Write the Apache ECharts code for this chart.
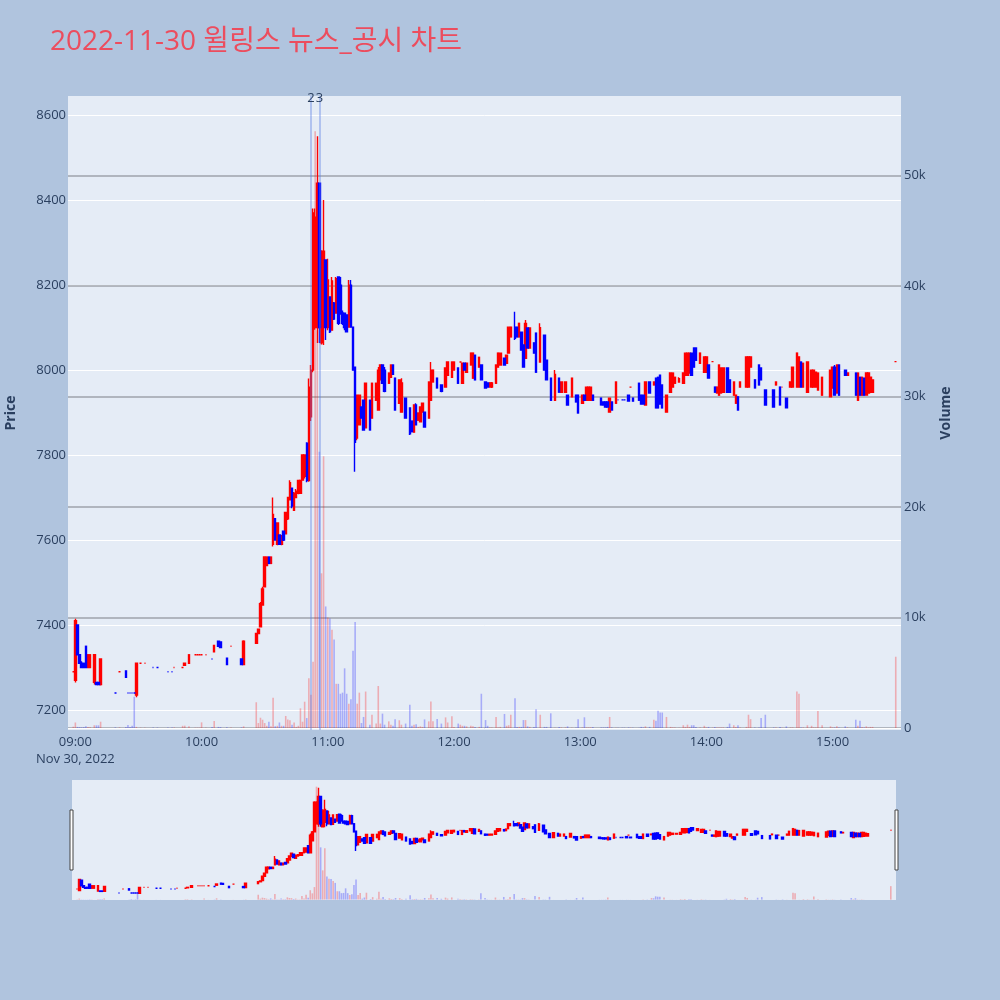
<!DOCTYPE html>
<html><head><meta charset="utf-8">
<script src="https://cdn.jsdelivr.net/npm/echarts@6/dist/echarts.min.js"></script>
<style>html,body{margin:0;padding:0;background:#b0c4de;}#c{width:1000px;height:1000px;}</style>
</head><body><div id="c"></div>
<script>
const times = [
'08:59','09:00','09:01','09:02','09:03','09:04','09:05','09:06','09:07','09:09','09:10','09:11','09:12','09:19','09:21','09:24','09:25','09:26','09:27','09:28','09:29','09:31','09:33','09:37','09:39','09:44','09:46','09:47','09:51','09:52','09:54','09:57','09:58','09:59',
'10:00','10:02','10:05','10:06','10:08','10:09','10:12','10:14','10:19','10:20','10:26','10:27','10:28','10:29','10:30','10:31','10:32','10:33','10:34','10:35','10:36','10:37','10:38','10:39','10:40','10:41','10:42','10:43','10:44','10:45','10:46','10:47','10:48','10:49','10:50','10:51','10:52','10:53','10:54','10:55','10:56','10:57','10:58','10:59',
'11:00','11:01','11:02','11:03','11:04','11:05','11:06','11:07','11:08','11:09','11:10','11:11','11:12','11:13','11:14','11:15','11:16','11:17','11:18','11:20','11:21','11:23','11:24','11:25','11:26','11:27','11:29','11:30','11:31','11:32','11:34','11:35','11:37','11:39','11:40','11:41','11:42','11:43','11:44','11:45','11:46','11:48','11:49','11:50','11:52','11:54','11:56','11:57','11:59',
'12:00','12:02','12:03','12:04','12:05','12:06','12:08','12:09','12:10','12:12','12:13','12:15','12:16','12:17','12:18','12:20','12:21','12:22','12:24','12:25','12:26','12:27','12:29','12:30','12:31','12:32','12:33','12:34','12:35','12:36','12:38','12:39','12:41','12:43','12:44','12:46','12:48','12:50','12:51','12:53','12:54','12:56','12:58','12:59',
'13:01','13:02','13:03','13:04','13:05','13:06','13:10','13:11','13:12','13:13','13:14','13:15','13:17','13:18','13:20','13:21','13:23','13:24','13:25','13:28','13:29','13:30','13:31','13:33','13:35','13:36','13:37','13:38','13:39','13:41','13:43','13:44','13:45','13:47','13:49','13:50','13:51','13:52','13:53','13:54','13:55','13:57','13:59',
'14:00','14:01','14:03','14:04','14:05','14:06','14:07','14:08','14:10','14:11','14:13','14:14','14:15','14:16','14:19','14:20','14:21','14:23','14:25','14:26','14:28','14:32','14:33','14:35','14:36','14:38','14:40','14:41','14:43','14:44','14:45','14:46','14:48','14:50','14:51','14:52','14:53','14:55','14:59',
'15:00','15:01','15:02','15:03','15:06','15:07','15:11','15:12','15:13','15:14','15:15','15:16','15:17','15:18','15:19','15:30'];
const opens = [
7290,7270,7400,7330,7310,7310,7350,7300,7300,7265,7265,7265,7260,7240,7290,7292,7240,7240,7240,7240,7235,7310,7310,7300,7300,7290,7290,7300,7300,7305,7310,7330,7330,7330,
7330,7330,7320,7337,7362,7360,7322,7350,7320,7307,7357,7380,7396,7447,7490,7540,7560,7545,7590,7650,7590,7612,7590,7621,7615,7650,7695,7722,7670,7700,7710,7710,7741,7750,7828,7740,7890,8000,8100,8100,8440,8064,8120,8259,
8100,8172,8094,8158,8134,8219,8200,8134,8134,8130,8101,8200,8101,8007,7840,7871,7913,7929,7864,7929,7887,7929,7906,7977,8012,8000,7969,7983,8012,7981,7922,7901,7934,7911,7880,7854,7918,7882,7878,7901,7901,7887,7929,7972,7981,7965,7960,7988,7983,
8000,8005,8019,7969,8016,7995,8012,7981,8035,8007,8012,7972,7970,7960,7960,7969,8007,8012,8028,8016,8040,8078,8101,8101,8078,8089,8059,8028,8099,8052,8064,8087,8019,8082,8023,7981,7929,7981,7948,7948,7941,7937,7941,7941,
7922,7941,7929,7929,7929,7941,7934,7925,7925,7925,7901,7925,7922,7930,7930,7930,7941,7960,7934,7969,7941,7941,7918,7972,7965,7981,7983,7988,7965,7901,7948,7960,7969,7972,7969,7988,7988,7993,8040,8052,8052,8016,7995,
7995,8012,8020,7960,7946,7941,7946,7948,8005,7977,7941,7922,7937,7960,7960,7960,8007,7977,8012,8005,7953,7953,7965,7960,7960,7934,7960,7960,7960,7960,8019,7960,7948,7960,7960,7960,7953,7941,7937,
7958,8007,7946,8012,8000,7988,7993,7929,7983,7941,7981,7941,7946,7948,7948,8020];
const highs = [
7290,7415,7402,7330,7315,7310,7350,7330,7330,7330,7265,7265,7320,7240,7290,7292,7240,7240,7240,7240,7312,7310,7310,7300,7300,7290,7290,7300,7300,7310,7330,7330,7330,7330,
7330,7330,7320,7352,7362,7362,7322,7350,7320,7364,7380,7390,7454,7490,7560,7560,7560,7560,7700,7652,7642,7612,7612,7621,7666,7700,7741,7722,7713,7720,7741,7741,7800,7800,7830,7980,8012,8380,8380,8550,8440,8282,8400,8260,
8262,8172,8219,8160,8219,8219,8219,8140,8134,8130,8212,8212,8101,8007,7941,7941,7913,7929,7969,7929,7969,7969,8007,8012,8012,8007,7993,8012,8012,7981,7977,7981,7934,7911,7880,7918,7922,7899,7913,7922,7901,7972,8019,8000,7981,7965,8005,8019,8019,
8019,8005,8019,8016,8016,8016,8040,8040,8035,8030,8012,7972,7970,7970,7972,8012,8040,8040,8028,8035,8101,8101,8137,8101,8110,8089,8059,8118,8099,8099,8064,8087,8110,8082,8023,7981,8000,7981,7972,7972,7941,7981,7941,7941,
7941,7941,7960,7960,7960,7941,7934,7925,7925,7925,7934,7925,7972,7930,7930,7930,7941,7960,7934,7969,7941,7941,7972,7972,7972,7981,7983,7988,7965,7941,7993,7993,7983,7983,7993,8040,8040,8040,8040,8052,8052,8040,8031,
8031,8012,8020,7960,7960,8012,8005,8005,8005,7977,7972,7941,7937,7972,8031,8031,8031,7977,8012,8005,7953,7953,7972,7960,7960,7934,7972,8007,8040,8031,8019,8016,8019,8000,8000,7995,7993,7983,8000,
8007,8012,8012,8012,8000,7993,7993,7993,7983,7983,7981,7993,7993,7983,7977,8020];
const lows = [
7290,7265,7330,7310,7300,7300,7300,7300,7300,7260,7260,7260,7258,7240,7290,7277,7240,7240,7240,7240,7230,7310,7310,7300,7300,7290,7290,7300,7300,7305,7310,7330,7330,7330,
7330,7330,7320,7337,7350,7347,7307,7350,7307,7307,7357,7380,7396,7447,7490,7540,7545,7545,7585,7600,7588,7590,7588,7598,7615,7647,7694,7675,7670,7700,7708,7710,7741,7745,7736,7737,7880,7995,8095,8064,8064,8060,8059,8071,
8094,8087,8094,8118,8134,8106,8130,8106,8094,8090,8101,8101,8000,7761,7835,7871,7887,7859,7864,7859,7887,7929,7906,7977,7969,7948,7969,7983,7990,7906,7922,7901,7887,7847,7855,7854,7871,7882,7878,7901,7866,7887,7929,7972,7958,7948,7960,7988,7983,
8000,7969,8019,7969,8000,7995,8012,7981,7977,8007,7977,7958,7960,7960,7958,7969,8007,8012,8012,8016,8040,8078,8071,8078,8078,8047,8007,8028,8052,8052,8040,7995,8019,8000,7977,7929,7929,7948,7948,7948,7918,7937,7925,7899,
7922,7929,7929,7929,7929,7929,7918,7918,7913,7913,7901,7906,7922,7930,7930,7930,7927,7960,7927,7929,7920,7920,7918,7946,7965,7911,7911,7920,7911,7901,7948,7960,7969,7972,7969,7988,7988,7993,7988,8007,8023,8016,7995,
7995,7981,8020,7948,7946,7941,7946,7948,7948,7948,7941,7922,7906,7960,7960,7960,8007,7958,7965,7977,7918,7913,7965,7918,7960,7911,7960,7960,7960,7960,7960,7960,7948,7960,7960,7960,7953,7941,7937,
7958,7941,7946,7941,7988,7988,7941,7929,7941,7941,7941,7941,7946,7948,7948,8020];
const closes = [
7290,7410,7330,7310,7300,7300,7300,7330,7330,7330,7260,7260,7320,7240,7290,7277,7240,7240,7240,7240,7310,7310,7310,7300,7300,7290,7290,7300,7300,7310,7330,7330,7330,7330,
7330,7330,7320,7352,7350,7347,7307,7350,7307,7362,7380,7390,7450,7485,7560,7560,7545,7560,7660,7600,7640,7590,7610,7600,7665,7700,7735,7680,7710,7715,7740,7740,7800,7800,7740,7960,8000,8370,8360,8440,8100,8270,8280,8100,
8212,8090,8210,8120,8215,8110,8135,8110,8100,8090,8200,8101,8000,7830,7941,7941,7887,7859,7969,7859,7969,7969,8000,8012,7969,7950,7993,8012,7990,7906,7977,7970,7887,7850,7855,7918,7871,7899,7913,7922,7866,7972,8000,8000,7958,7950,8005,8019,8019,
8019,7969,8019,8016,8000,8016,8040,8040,7977,8030,7977,7958,7960,7970,7970,8012,8040,8040,8012,8035,8101,8101,8075,8078,8110,8047,8007,8110,8052,8099,8040,7995,8100,8000,7977,7929,7990,7948,7972,7972,7918,7981,7925,7899,
7941,7929,7960,7960,7960,7929,7918,7918,7913,7913,7934,7906,7972,7930,7930,7930,7927,7960,7927,7929,7920,7920,7972,7946,7972,7911,7911,7920,7911,7941,7993,7993,7983,7980,7993,8040,8040,8040,7988,8007,8023,8040,8031,
8031,7981,8020,7948,7960,8012,8005,8005,7948,7948,7972,7941,7906,7972,8031,8031,8031,7958,7965,7977,7918,7913,7972,7918,7960,7911,7972,8007,8040,8031,7960,8016,8019,8000,8000,7995,7993,7983,8000,
8007,7941,8012,7941,7988,7993,7941,7993,7941,7983,7941,7993,7993,7983,7977,8020];
const volumes = [
120,500,100,80,60,80,150,100,60,250,240,240,570,60,50,100,270,80,200,2830,100,30,30,40,40,40,40,50,200,210,150,30,30,30,
510,30,100,630,100,80,60,40,50,150,2330,450,930,750,450,200,570,150,2740,150,200,500,200,200,1090,780,700,300,500,100,200,1780,570,2380,900,4500,3000,6000,54000,36000,25000,14000,24600,11000,
10000,9900,8900,8000,4000,4000,3100,3200,5400,3100,2200,2600,7000,9600,2200,3200,450,1000,3300,300,1200,400,3800,400,1300,300,600,300,200,790,700,300,400,2100,200,300,350,100,150,100,780,600,2400,600,810,400,960,500,1060,
100,400,300,200,200,150,200,150,100,100,3100,720,200,50,50,1000,50,100,1270,200,250,1200,2700,100,100,100,720,720,150,100,100,1700,1200,100,100,1330,20,100,50,50,150,30,50,790,
50,970,50,50,50,100,50,50,50,100,1000,50,30,30,30,30,50,30,30,20,100,50,150,100,740,650,1570,1400,1400,1000,100,50,50,30,250,100,300,100,250,250,100,50,200,
50,100,30,100,50,50,50,50,100,400,250,100,250,50,100,1200,800,50,50,900,1200,50,50,100,30,150,50,50,3300,3100,50,50,250,200,50,50,1540,250,150,
50,50,150,50,150,50,750,200,650,100,50,150,50,100,100,6450];
const hourTicks = ['09:00','10:00','11:00','12:00','13:00','14:00','15:00'];
const dateLabel = 'Nov 30, 2022';
const newsTimes = ['10:52','10:56'];
const newsLabels = ['2','3'];
const priceRange = [7153, 8645];
const volumeRange = [-181, 57195];
const sessionStart = '08:57', sessionEnd = '15:32';

const pad = n => String(n).padStart(2,'0');
const toMin = s => { const p = s.split(':'); return +p[0]*60 + +p[1]; };
const cats = [];
for (let m = toMin(sessionStart); m <= toMin(sessionEnd); m++) cats.push(pad(Math.floor(m/60)) + ':' + pad(m%60));
const N = cats.length;
const upData = new Array(N).fill('-'), dnData = new Array(N).fill('-');
const volData = new Array(N).fill('-'), volUp = new Array(N).fill(true);
let inc = true, cPrev = null;
times.forEach((t, i) => {
  const o = opens[i], c = closes[i];
  if (c > o) inc = true; else if (c < o) inc = false; else if (cPrev !== null && c !== cPrev) inc = c > cPrev;
  cPrev = c;
  const k = cats.indexOf(t);
  const v = [o, c, lows[i], highs[i]];
  if (inc) upData[k] = v; else dnData[k] = v;
  volData[k] = volumes[i]; volUp[k] = inc;
});

const RED = '#ff0000', BLUE = '#0000ff';
const FONT = '"Open Sans", "Noto Sans", sans-serif';
function candle(data, color, xi, yi, extra) {
  return Object.assign({
    type: 'candlestick', data, xAxisIndex: xi, yAxisIndex: yi, barWidth: 2, z: 3, animation: false,
    itemStyle: { color, color0: color, borderColor: color, borderColor0: color, borderColorDoji: color, borderWidth: 1.4 }
  }, extra || {});
}
function vols(xi, yi, extra) {
  return Object.assign({
    type: 'bar', data: volData, xAxisIndex: xi, yAxisIndex: yi, barWidth: 1.6, z: 2, animation: false,
    itemStyle: { color: p => volUp[p.dataIndex] ? 'rgba(255,0,0,0.27)' : 'rgba(0,0,255,0.27)' }
  }, extra || {});
}

const chart = echarts.init(document.getElementById('c'));
chart.setOption({
  backgroundColor: '#b0c4de',
  animation: false,
  title: { text: '2022-11-30 윌링스 뉴스_공시 차트', left: 45, top: 23,
    textStyle: { color: '#ec4d5e', fontSize: 28, fontWeight: 'normal', fontFamily: '"Open Sans", "Noto Sans CJK KR", sans-serif' } },
  grid: [
    { left: 68, top: 96, width: 833, height: 634, show: true, backgroundColor: '#e5ecf6', borderWidth: 0, containLabel: false, outerBoundsMode: 'none' },
    { left: 72, top: 780, width: 824, height: 120, show: true, backgroundColor: '#e5ecf6', borderWidth: 0, containLabel: false, outerBoundsMode: 'none' }
  ],
  xAxis: [
    { type: 'category', data: cats, gridIndex: 0, axisLine: { show: false }, axisTick: { show: false }, splitLine: { show: false },
      axisLabel: { interval: (i, v) => hourTicks.includes(v), formatter: v => v === hourTicks[0] ? v + '\n' + dateLabel : v,
        color: '#2a3f5f', fontSize: 13, fontFamily: FONT, margin: 4, lineHeight: 17 } },
    { type: 'category', data: cats, gridIndex: 1, show: false }
  ],
  yAxis: [
    { type: 'value', gridIndex: 0, min: priceRange[0], max: priceRange[1], splitNumber: 7, position: 'left',
      name: 'Price', nameLocation: 'middle', nameGap: 50,
      nameTextStyle: { color: '#2a3f5f', fontSize: 14, fontWeight: 'bold', fontFamily: FONT },
      axisLine: { show: false }, axisTick: { show: false },
      axisLabel: { color: '#2a3f5f', fontSize: 13, fontFamily: FONT, margin: 2, showMinLabel: false, showMaxLabel: false,
        formatter: v => String(v) },
      splitLine: { show: true, showMinLine: false, showMaxLine: false, lineStyle: { color: '#ffffff', width: 1 } } },
    { type: 'value', gridIndex: 0, min: volumeRange[0], max: volumeRange[1], splitNumber: 6, position: 'right',
      name: 'Volume', nameLocation: 'middle', nameGap: 38,
      nameTextStyle: { color: '#2a3f5f', fontSize: 14, fontWeight: 'bold', fontFamily: FONT },
      axisLine: { show: false }, axisTick: { show: false },
      axisLabel: { color: '#2a3f5f', fontSize: 13, fontFamily: FONT, margin: 3, showMinLabel: false, showMaxLabel: false,
        formatter: v => v === 0 ? '0' : (v / 1000) + 'k' },
      splitLine: { show: true, showMinLine: false, showMaxLine: false, lineStyle: { color: '#9ea3ab', width: 1.5 } } },
    { type: 'value', gridIndex: 1, min: priceRange[0], max: priceRange[1], show: false, splitLine: { show: false } },
    { type: 'value', gridIndex: 1, min: volumeRange[0], max: volumeRange[1], show: false, splitLine: { show: false } }
  ],
  series: [
    vols(0, 1, { markLine: { symbol: 'none', silent: true, animation: false, label: { show: false },
      lineStyle: { color: '#ffffff', width: 1, type: 'solid' }, data: [{ yAxis: 0 }] } }),
    candle(upData, RED, 0, 0, { markLine: { symbol: 'none', silent: true, animation: false,
      lineStyle: { color: 'rgba(90,125,230,0.5)', width: 1.5, type: 'solid' },
      label: { show: true, position: 'end', formatter: p => p.name, color: '#2a3f5f', fontSize: 13, fontFamily: FONT, distance: -9 },
      data: newsTimes.map((t, i) => ({ xAxis: t, name: newsLabels[i] })) } }),
    candle(dnData, BLUE, 0, 0),
    vols(1, 3),
    candle(upData, RED, 1, 2),
    candle(dnData, BLUE, 1, 2)
  ],
  graphic: [
    { type: 'rect', shape: { x: 70, y: 810, width: 3, height: 60 }, style: { fill: '#ffffff', stroke: '#444', lineWidth: 1 } },
    { type: 'rect', shape: { x: 895, y: 810, width: 3, height: 60 }, style: { fill: '#ffffff', stroke: '#444', lineWidth: 1 } }
  ]
});
</script></body></html>
